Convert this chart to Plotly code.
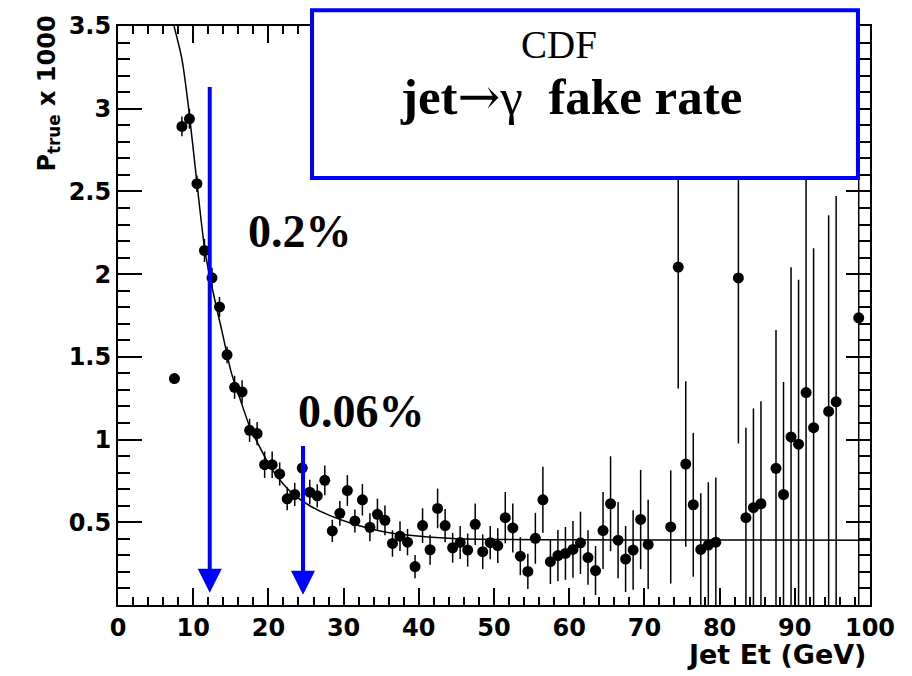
import plotly.graph_objects as go

# ---- data ----
jet_et = [7.5, 8.5, 9.5, 10.5, 11.5, 12.5, 13.5, 14.5, 15.5, 16.5, 17.5, 18.5, 19.5, 20.5,
          21.5, 22.5, 23.5, 24.5, 25.5, 26.5, 27.5, 28.5, 29.5, 30.5, 31.5, 32.5, 33.5, 34.5,
          35.5, 36.5, 37.5, 38.5, 39.5, 40.5, 41.5, 42.5, 43.5, 44.5, 45.5, 46.5, 47.5, 48.5,
          49.5, 50.5, 51.5, 52.5, 53.5, 54.5, 55.5, 56.5, 57.5, 58.5, 59.5, 60.5, 61.5, 62.5,
          63.5, 64.5, 65.5, 66.5, 67.5, 68.5, 69.5, 70.5, 73.5, 74.5, 75.5, 76.5, 77.5, 78.5,
          79.5, 82.5, 83.5, 84.5, 85.5, 87.5, 88.5, 89.5, 90.5, 91.5, 92.5, 94.5, 95.5, 98.5]
p_true = [1.369, 2.893, 2.939, 2.547, 2.143, 1.978, 1.802, 1.512, 1.316, 1.288, 1.056, 1.036,
          0.848, 0.848, 0.792, 0.642, 0.668, 0.828, 0.682, 0.660, 0.754, 0.448, 0.554, 0.692,
          0.508, 0.636, 0.470, 0.548, 0.512, 0.372, 0.416, 0.380, 0.232, 0.480, 0.334, 0.584,
          0.480, 0.346, 0.378, 0.332, 0.488, 0.322, 0.377, 0.359, 0.528, 0.466, 0.295, 0.203,
          0.403, 0.636, 0.262, 0.299, 0.312, 0.336, 0.376, 0.287, 0.208, 0.450, 0.612, 0.392,
          0.278, 0.332, 0.517, 0.366, 0.472, 2.043, 0.852, 0.606, 0.336, 0.362, 0.380, 1.977,
          0.528, 0.588, 0.612, 0.826, 0.668, 1.016, 0.972, 1.284, 1.072, 1.170, 1.228, 1.736]
p_err = [0.03, 0.06, 0.06, 0.05, 0.07, 0.06, 0.06, 0.05, 0.07, 0.07, 0.07, 0.07, 0.08, 0.08,
         0.07, 0.07, 0.07, 0.07, 0.075, 0.07, 0.09, 0.067, 0.075, 0.093, 0.07, 0.095, 0.085,
         0.095, 0.09, 0.08, 0.09, 0.08, 0.07, 0.105, 0.09, 0.12, 0.10, 0.09, 0.10, 0.10, 0.125,
         0.105, 0.10, 0.105, 0.155, 0.148, 0.115, 0.107, 0.154, 0.20, 0.135, 0.155, 0.16,
         0.172, 0.188, 0.165, 0.148, 0.233, 0.287, 0.23, 0.20, 0.24, 0.30, 0.27, 0.342, 0.734,
         0.50, 0.435, 0.34, 0.38, 0.39, 1.0, 0.544, 0.60, 0.62, 0.836, 0.68, 1.026, 0.994,
         1.3, 1.084, 1.186, 1.244, 1.9]

# fit curve
fit_x = [7.45, 8.5, 9.4, 10.5, 11.6, 12.7, 13.8, 15.1, 16.2, 17.5, 18.9, 20.2, 22.0, 23.3,
         25.5, 28.2, 31.3, 35.7, 40.2, 44.6, 50.8, 60.0, 75.0, 100.0]
fit_y = [3.50, 3.30, 3.00, 2.55, 2.13, 1.88, 1.66, 1.40, 1.25, 1.08, 0.95, 0.84, 0.73, 0.67,
         0.60, 0.54, 0.49, 0.44, 0.415, 0.402, 0.396, 0.394, 0.393, 0.392]

x_ticks = [0, 10, 20, 30, 40, 50, 60, 70, 80, 90, 100]
y_ticks = [0.5, 1.0, 1.5, 2.0, 2.5, 3.0, 3.5]
y_ticktext = ["0.5", "1", "1.5", "2", "2.5", "3", "3.5"]

# arrows: (x position, top, tip) and their labels
arrow_x = [12.2, 24.6]
arrow_top = [3.14, 0.97]
arrow_tip = [0.074, 0.062]
label_text = ["0.2%", "0.06%"]
label_x = [24.2, 32.4]
label_y = [2.26, 1.17]

BLUE = "#0000FF"
tick_font = dict(family="DejaVu Sans", size=24, color="black", weight="bold")
title_font = dict(family="DejaVu Sans", size=27, color="black", weight="bold")

fig = go.Figure()
fig.add_trace(go.Scatter(
    x=jet_et, y=p_true, mode="markers",
    marker=dict(color="black", size=11, symbol="circle"),
    error_y=dict(type="data", array=p_err, visible=True, color="black",
                 thickness=1.5, width=0),
    cliponaxis=True,
))
fig.add_trace(go.Scatter(
    x=fit_x, y=fit_y, mode="lines",
    line=dict(color="black", width=1.5, shape="spline", smoothing=0.8),
))

fig.update_layout(
    width=912, height=676,
    margin=dict(l=118, r=42, t=22, b=71),
    plot_bgcolor="white", paper_bgcolor="white",
    showlegend=False,
)
fig.update_xaxes(
    range=[0, 100], tickvals=x_ticks, ticks="inside", ticklen=17, tickwidth=1.5,
    tickcolor="black",
    minor=dict(dtick=2, tick0=0, ticks="inside", ticklen=8, tickwidth=1.5, tickcolor="black"),
    showline=True, linecolor="black", linewidth=2, mirror="ticks",
    showgrid=False, zeroline=False, tickfont=tick_font,
)
fig.update_yaxes(
    range=[0, 3.5], tickvals=y_ticks, ticktext=y_ticktext, ticks="inside", ticklen=24,
    tickwidth=1.5, tickcolor="black",
    minor=dict(dtick=0.1, tick0=0, ticks="inside", ticklen=12, tickwidth=1.5, tickcolor="black"),
    showline=True, linecolor="black", linewidth=2, mirror="ticks",
    showgrid=False, zeroline=False, tickfont=tick_font,
)

# blue arrows
for xa, yt, yb in zip(arrow_x, arrow_top, arrow_tip):
    fig.add_annotation(x=xa, y=yb, ax=xa, ay=yt, xref="x", yref="y", axref="x", ayref="y",
                       text="", showarrow=True, arrowhead=2, arrowwidth=4, arrowsize=1.2,
                       arrowcolor=BLUE, standoff=0)

for t, lx, ly in zip(label_text, label_x, label_y):
    fig.add_annotation(x=lx, y=ly, xref="x", yref="y", text="<b>" + t + "</b>",
                       showarrow=False, xanchor="center", yanchor="middle",
                       font=dict(family="Liberation Serif", size=46, color="black"))

# title box
fig.add_shape(type="rect", xref="paper", yref="paper", x0=0.258, x1=0.984, y0=0.7376, y1=1.027,
              line=dict(color=BLUE, width=4), fillcolor="white", layer="above")
fig.add_annotation(x=0.586, y=0.968, xref="paper", yref="paper", text="CDF",
                   showarrow=False, xanchor="center", yanchor="middle",
                   font=dict(family="Liberation Serif", size=39, color="black"))
fig.add_annotation(x=0.603, y=0.878, xref="paper", yref="paper",
                   text=("<b>jet</b><span style='font-family:DejaVu Serif;font-weight:normal'>"
                         "\u2192</span><span style='font-weight:normal'>\u03b3</span>"
                         "<b>  fake rate</b>"),
                   showarrow=False, xanchor="center", yanchor="middle",
                   font=dict(family="Liberation Serif", size=51, color="black"))

# axis titles
fig.add_annotation(x=-0.092, y=0.883, xref="paper", yref="paper",
                   text="P<sub>true</sub> x 1000", textangle=-90, showarrow=False,
                   xanchor="center", yanchor="middle", font=tick_font)
fig.add_annotation(x=0.997, y=-0.0858, xref="paper", yref="paper",
                   text="Jet Et (GeV)", showarrow=False,
                   xanchor="right", yanchor="middle", font=title_font)

fig.write_html("out.html")
